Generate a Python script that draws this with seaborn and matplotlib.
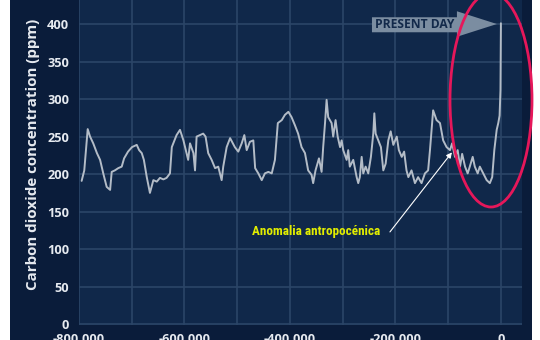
import matplotlib
matplotlib.use("Agg")
import matplotlib.pyplot as plt
from matplotlib.patches import Rectangle, Ellipse, Polygon
from matplotlib.ticker import MultipleLocator, FuncFormatter
from matplotlib import font_manager
import seaborn as sns
import pandas as pd

# Years before present (thousands) and CO2 (ppm)
years_k = [-795, -790, -783.5, -779, -773, -766, -760, -754, -747.5, -741, -738, -732,
           -725.5, -719, -714.5, -707, -699.5, -690.5, -686, -681, -677, -671.5, -665.5,
           -659, -652.5, -646.5, -640, -634, -627.5, -624, -615, -608.5, -602, -596,
           -593, -589.5, -583, -580, -577, -570.5, -564.5, -560, -555, -548.5, -542,
           -536, -529.5, -526.5, -520, -513.5, -504.5, -498, -491.5, -486.5, -482,
           -476, -469.5, -466, -460, -453.5, -447.5, -441, -434.5, -428.5, -423,
           -415.5, -409.5, -403, -397, -390.5, -384.5, -378, -371.5, -365.5, -359,
           -356, -351.5, -345, -340, -337, -333.5, -330.5, -327.5, -321, -318, -313.5,
           -309.5, -305, -302, -299, -292.5, -289.5, -286.5, -280, -273.5, -270.5,
           -267.5, -264, -261, -256.5, -251.5, -246.5, -242, -240, -237.5, -232.5,
           -227.5, -223, -218.5, -213.5, -209, -204, -197.5, -193.5, -188, -183.5,
           -179, -175.5, -169.5, -163, -157, -150.5, -144, -138, -134.5, -128.5,
           -122, -115.5, -109.5, -103, -96.5, -92.5, -87, -82, -77.5, -73.5, -68,
           -63, -59, -53.5, -49.5, -44, -40, -33.5, -27, -21, -16.5, -12.5, -8,
           -5, -2.5, -0.8, -0.3, 0.0]
co2_ppm = [191, 205, 260, 250, 241, 228, 219, 201, 183, 179, 203, 205,
           208, 210, 221, 230, 236, 239, 232, 228, 219, 196, 175,
           192, 190, 195, 193, 195, 201, 236, 252, 259, 245, 228,
           219, 241, 228, 205, 250, 252, 254, 250, 228, 219, 208,
           210, 192, 210, 236, 248, 236, 230, 241, 252, 232,
           243, 245, 208, 201, 192, 201, 203, 201, 219, 268,
           272, 279, 283, 276, 265, 254, 236, 228, 205, 199,
           188, 205, 221, 203, 236, 268, 299, 276, 268, 250, 272,
           250, 236, 245, 232, 219, 232, 210, 219, 196, 188,
           196, 223, 201, 210, 201, 223, 254, 281, 254, 245,
           236, 205, 214, 245, 257, 239, 250, 232, 223, 230,
           205, 196, 205, 188, 196, 188, 201, 205, 232, 285,
           272, 268, 245, 236, 232, 241, 223, 232, 210, 227, 210,
           201, 210, 223, 210, 201, 210, 201, 192, 188, 196, 232, 259,
           268, 278, 312, 375, 401]

y_ticks = [0, 50, 100, 150, 200, 250, 300, 350, 400]
y_label = "Carbon dioxide concentration (ppm)"
banner_text = "PRESENT DAY"
note_text = "Anomalia antropocénica"

df = pd.DataFrame({"year": [v * 1000 for v in years_k], "co2": co2_ppm})

sns.set_theme(style="dark")
plt.rcParams["font.family"] = ["Open Sans", "DejaVu Sans"]

installed = {f.name for f in font_manager.fontManager.ttflist}
narrow = next((n for n in ["Roboto Condensed", "Liberation Sans Narrow",
                           "Open Sans Condensed", "DejaVu Sans Condensed"]
               if n in installed), "Roboto")

OUTER = "#0a1c3a"
PANEL = "#10284a"
GRID = "#2b4567"
LINE = "#b3bcc7"
TXT = "#e6eaf0"

fig = plt.figure(figsize=(5.4, 3.4), dpi=100)
fig.patch.set_facecolor("white")
fig.add_artist(Rectangle((10 / 540, 0), 522 / 540, 1, transform=fig.transFigure,
                         facecolor=OUTER, edgecolor="none", zorder=0))

ax = fig.add_axes([79 / 540, 15 / 340, 443 / 540, 325 / 340])
ax.set_facecolor(PANEL)
sns.lineplot(data=df, x="year", y="co2", ax=ax, color=LINE, linewidth=1.4, zorder=3)

ax.set_xlim(-800000, 40000)
ax.set_ylim(-1, 432)
ax.xaxis.set_major_locator(MultipleLocator(200000))
ax.xaxis.set_minor_locator(MultipleLocator(100000))
ax.set_yticks(y_ticks)
ax.xaxis.set_major_formatter(FuncFormatter(lambda v, p: f"{int(round(v)):,}"))
ax.grid(True, which="both", color=GRID, linewidth=1.2, zorder=1)
ax.set_axisbelow(True)
for s in ax.spines.values():
    s.set_visible(False)
ax.tick_params(axis="both", which="both", length=0, colors=TXT, labelsize=9.2)
ax.tick_params(axis="y", pad=7)
ax.tick_params(axis="x", pad=6)
for lab in ax.get_xticklabels() + ax.get_yticklabels():
    lab.set_fontweight("bold")
ax.set_xlabel("")
ax.set_ylabel("")

ylab = fig.text(33 / 540, (340 - 154) / 340, y_label, rotation=90, ha="center",
                va="center", color=TXT, fontsize=10.5, fontweight="bold")

# PRESENT DAY banner arrow
banner = Polygon([(-244500, 389), (-83400, 389), (-83400, 383), (-7600, 400),
                  (-83400, 417), (-83400, 409), (-244500, 409)], closed=True,
                 facecolor="#7b8da1", edgecolor="none", zorder=4)
ax.add_patch(banner)
btxt = ax.text(-164000, 399, banner_text, ha="center", va="center", color="#12294a",
               fontsize=8.5, fontweight="bold", zorder=5)

# annotation text and arrow
note = ax.text(-350700, 123, note_text, ha="center", va="center", color="#e2ee00",
               fontsize=9, fontweight="bold", family=[narrow, "DejaVu Sans"], zorder=6)
ax.annotate("", xy=(-92900, 229), xytext=(-210400, 123),
            arrowprops=dict(arrowstyle="-|>", color="white", lw=0.8,
                            shrinkA=0, shrinkB=0, mutation_scale=8), zorder=6)

# fit text sizes to the reference
fig.canvas.draw()
r = fig.canvas.get_renderer()
for t, target, dim in [(note, 128, 0), (btxt, 78, 0), (ylab, 272, 1)]:
    bb = t.get_window_extent(renderer=r)
    cur = bb.width if dim == 0 else bb.height
    t.set_fontsize(t.get_fontsize() * target / cur)

# highlight ellipse
fig.add_artist(Ellipse((491 / 540, (340 - 100) / 340), 82 / 540, 214 / 340,
                       transform=fig.transFigure, facecolor="none",
                       edgecolor="#e6175a", linewidth=2.0, zorder=10))

fig.savefig("out.png", dpi=100, facecolor=fig.get_facecolor())
